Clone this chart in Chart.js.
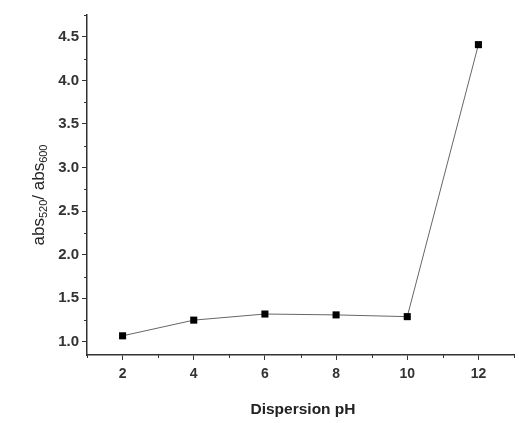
<!DOCTYPE html>
<html lang="en">
<head>
  <meta charset="UTF-8" />
  <title>abs520/abs600 vs pH</title>
  <script src="https://cdn.jsdelivr.net/npm/chart.js"></script>
  <style>
    body { margin: 0; background: #fff; }
    #wrap { width: 519px; height: 423px; }
  </style>
</head>
<body>
  <div id="wrap"><canvas id="chart" width="519" height="423"></canvas></div>

  <script>
    // data
    const phValues = [2, 4, 6, 8, 10, 12];
    const ratioValues = [1.07, 1.25, 1.32, 1.31, 1.29, 4.41];
    const xTicks = [2, 4, 6, 8, 10, 12];
    const yTicks = [1.0, 1.5, 2.0, 2.5, 3.0, 3.5, 4.0, 4.5];
    const xMinor = [1, 3, 5, 7, 9, 11, 13];
    const yMinor = [1.25, 1.75, 2.25, 2.75, 3.25, 3.75, 4.25, 4.75];

    const axisColor = '#333';
    const fam = 'Liberation Sans, Arial, sans-serif';

    // minor ticks + axis titles (y title needs subscripts)
    const extras = {
      id: 'extras',
      afterDraw(chart) {
        const { ctx, chartArea, scales } = chart;
        ctx.save();
        ctx.strokeStyle = axisColor;
        ctx.lineWidth = 1;
        ctx.beginPath();
        xMinor.forEach(v => {
          const px = Math.round(scales.x.getPixelForValue(v)) + 0.5;
          ctx.moveTo(px, chartArea.bottom);
          ctx.lineTo(px, chartArea.bottom + 3);
        });
        yMinor.forEach(v => {
          const py = Math.round(scales.y.getPixelForValue(v)) + 0.5;
          ctx.moveTo(chartArea.left, py);
          ctx.lineTo(chartArea.left - 3, py);
        });
        ctx.stroke();

        // x title
        ctx.fillStyle = '#222';
        ctx.font = 'bold 15.5px ' + fam;
        ctx.textAlign = 'center';
        ctx.textBaseline = 'middle';
        ctx.fillText('Dispersion pH', 303, 410);

        // y title with subscripts, rotated
        const parts = [
          ['abs', false], ['520', true], ['/ abs', false], ['600', true]
        ];
        const big = '17px ' + fam;
        const small = '11px ' + fam;
        let total = 0;
        parts.forEach(([t, sub]) => { ctx.font = sub ? small : big; total += ctx.measureText(t).width; });
        ctx.translate(38, 195);
        ctx.rotate(-Math.PI / 2);
        ctx.textAlign = 'left';
        ctx.textBaseline = 'alphabetic';
        let x = -total / 2;
        parts.forEach(([t, sub]) => {
          ctx.font = sub ? small : big;
          ctx.fillText(t, x, sub ? 9 : 6);
          x += ctx.measureText(t).width;
        });
        ctx.restore();
      }
    };

    new Chart(document.getElementById('chart'), {
      type: 'line',
      data: {
        datasets: [{
          data: phValues.map((p, i) => ({ x: p, y: ratioValues[i] })),
          borderColor: '#666',
          borderWidth: 1,
          tension: 0,
          pointStyle: 'rect',
          pointRadius: 5,
          pointBackgroundColor: '#000',
          pointBorderColor: '#000',
          pointBorderWidth: 0
        }]
      },
      options: {
        responsive: false,
        animation: false,
        layout: { padding: { left: 0, right: 1, top: 15, bottom: 0 } },
        plugins: { legend: { display: false }, tooltip: { enabled: false } },
        scales: {
          x: {
            type: 'linear',
            min: 1, max: 13,
            afterBuildTicks: s => { s.ticks = xTicks.map(v => ({ value: v })); },
            afterFit: s => { s.height = 423 - 355; },
            border: { color: axisColor, width: 1.5 },
            grid: { drawOnChartArea: false, drawTicks: true, tickLength: 5, color: axisColor },
            ticks: { color: '#333', font: { family: fam, size: 14, weight: 'bold' }, padding: 6, maxRotation: 0 }
          },
          y: {
            min: 0.85, max: 4.75,
            afterBuildTicks: s => { s.ticks = yTicks.map(v => ({ value: v })); },
            afterFit: s => { s.width = 87; },
            border: { color: axisColor, width: 1.5 },
            grid: { drawOnChartArea: false, drawTicks: true, tickLength: 5, color: axisColor },
            ticks: { color: '#333', font: { family: fam, size: 15, weight: 'bold' }, padding: 3, callback: v => v.toFixed(1) }
          }
        }
      },
      plugins: [extras]
    });
  </script>
</body>
</html>
